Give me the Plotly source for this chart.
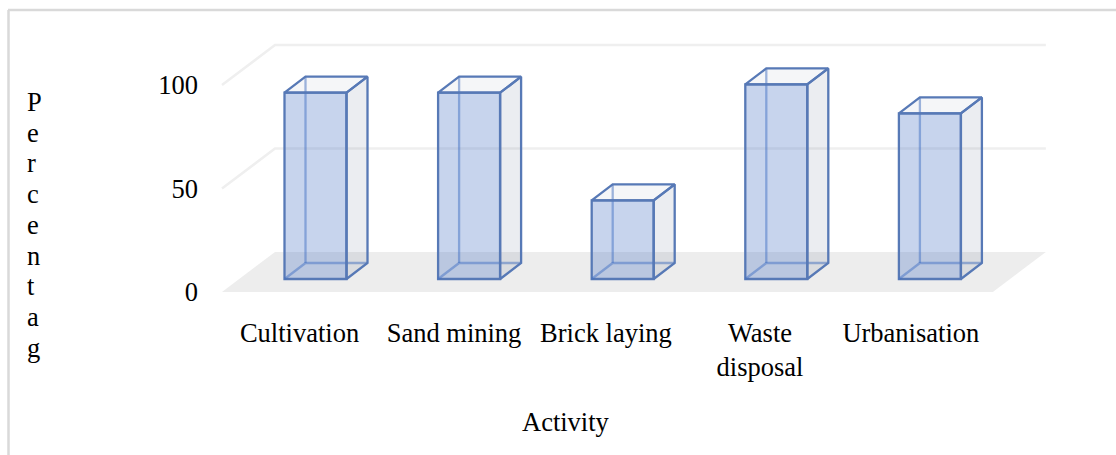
import plotly.graph_objects as go

categories = ["Cultivation", "Sand mining", "Brick laying", "Waste<br>disposal", "Urbanisation"]
values = [90, 90, 38, 94, 80]
label_positions = [0, 1.006, 1.995, 2.998, 3.98]
y_ticks = [0, 50, 100]
y_title_letters = list("Percentag")
x_title = "Activity"

FONT = "Liberation Serif"
FS = 26.5
W, H = 1116, 455
LEFT, BOTTOM = 199, 314
X0, PX_CAT = 299.5, 153.6     # pixels of category 0 and per category
Y0, PX_VAL = 292, 2.07        # pixels of value 0 and per unit

x_range = [(LEFT - X0) / PX_CAT, (W - X0) / PX_CAT]
y_range = [(Y0 - BOTTOM) / PX_VAL, Y0 / PX_VAL]

# oblique projection offsets, in axis units
WALL_DX, WALL_DY = 53 / PX_CAT, 40 / PX_VAL
BAR_DX, BAR_DY = 21 / PX_CAT, 16 / PX_VAL
BAR_SHIFT, BAR_BASE = 16 / PX_CAT, 13 / PX_VAL
BAR_W = 62 / PX_CAT
FLOOR_L, FLOOR_R = -0.5046, 4.514

EDGE = "#5779B6"
EDGE_BACK = "rgba(68,114,196,0.5)"
GRID = "#EFEFEF"

fig = go.Figure()
xs = [i + BAR_SHIFT for i in range(len(values))]

fig.add_trace(go.Bar(
    x=xs, y=values, base=[BAR_BASE] * len(values), width=BAR_W,
    marker=dict(color="rgba(68,114,196,0.30)", line=dict(color=EDGE, width=2.3)),
    hoverinfo="skip", showlegend=False,
))


def poly(px, py, fill=None, line=EDGE, width=2.3):
    fig.add_trace(go.Scatter(
        x=px, y=py, mode="lines", fill="toself" if fill else None,
        fillcolor=fill, line=dict(color=line, width=width),
        hoverinfo="skip", showlegend=False,
    ))


for x, v in zip(xs, values):
    l, r = x - BAR_W / 2, x + BAR_W / 2
    b, t = BAR_BASE, BAR_BASE + v
    # hidden rear edges, seen through the front face
    poly([l, l + BAR_DX, r + BAR_DX], [b, b + BAR_DY, b + BAR_DY], line=EDGE_BACK)
    poly([l + BAR_DX, l + BAR_DX], [b + BAR_DY, t + BAR_DY], line=EDGE_BACK)
    # right side face
    poly([r, r + BAR_DX, r + BAR_DX, r, r], [b, b + BAR_DY, t + BAR_DY, t, b],
         fill="rgba(60,80,120,0.10)")
    # top face
    poly([l, l + BAR_DX, r + BAR_DX, r, l], [t, t + BAR_DY, t + BAR_DY, t, t],
         fill="rgba(60,80,120,0.05)")

shapes = [
    # floor
    dict(type="path", layer="below", xref="x", yref="y", line=dict(width=0), fillcolor="#EDEDED",
         path=f"M{FLOOR_L},0 L{FLOOR_L + WALL_DX},{WALL_DY} L{FLOOR_R + WALL_DX},{WALL_DY} L{FLOOR_R},0 Z"),
    # chart frame
    dict(type="line", xref="paper", yref="paper", x0=8.5 / W, x1=8.5 / W, y0=0, y1=1 - 10 / H,
         line=dict(color="#D9D9D9", width=2.5)),
    dict(type="line", xref="paper", yref="paper", x0=8 / W, x1=1, y0=1 - 10 / H, y1=1 - 10 / H,
         line=dict(color="#D9D9D9", width=2.5)),
]
for v in y_ticks[1:]:
    shapes.append(dict(type="path", layer="below", xref="x", yref="y",
                       line=dict(color=GRID, width=2.5),
                       path=f"M{FLOOR_L},{v} L{FLOOR_L + WALL_DX},{v + WALL_DY} L{FLOOR_R + WALL_DX},{v + WALL_DY}"))

annotations = [dict(text=x_title, x=566 / W, y=1 - 422 / H, xref="paper", yref="paper",
                    xanchor="center", yanchor="middle",
                    showarrow=False, font=dict(family=FONT, size=FS, color="#000"))]
for i, ch in enumerate(y_title_letters):
    annotations.append(dict(text=ch, x=25 / W, y=1 - (102 + 30.7 * i) / H, xref="paper", yref="paper",
                            xanchor="left", yanchor="middle",
                            showarrow=False, font=dict(family=FONT, size=FS, color="#000")))

fig.update_layout(
    width=W, height=H, margin=dict(l=0, r=0, t=0, b=0),
    paper_bgcolor="white", plot_bgcolor="rgba(0,0,0,0)",
    font=dict(family=FONT, size=FS, color="#000"),
    shapes=shapes, annotations=annotations, showlegend=False,
    xaxis=dict(domain=[LEFT / W, 1], range=x_range, tickmode="array",
               tickvals=label_positions, ticktext=categories,
               showgrid=False, zeroline=False, showline=False, ticks="", tickangle=0),
    yaxis=dict(domain=[1 - BOTTOM / H, 1], range=y_range, tickmode="array",
               tickvals=y_ticks, showgrid=False, zeroline=False, showline=False, ticks=""),
)

fig.write_html("out.html", post_script="document.body.style.margin='0';", config=dict(displayModeBar=False))
